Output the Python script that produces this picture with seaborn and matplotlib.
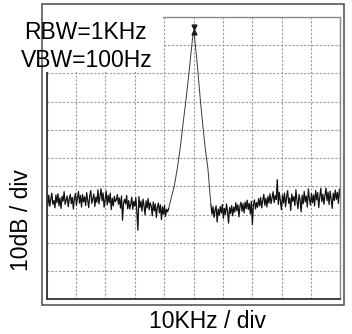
import numpy as np
import pandas as pd
import matplotlib
matplotlib.use("Agg")
import matplotlib.pyplot as plt
import seaborn as sns
from matplotlib.patches import Rectangle

# Spectrum trace (kHz, dB relative to top line)
left_start, left_stop = 0.0, 41.5
left_level = [
    -64.2, -66.8, -63.1, -67.0, -64.5, -62.4, -66.3, -65.0, -67.6, -63.0,
    -65.8, -62.6, -66.9, -64.1, -67.8, -63.5, -65.2, -61.9, -66.4, -64.8,
    -63.4, -67.2, -64.6, -62.8, -66.1, -63.9, -68.0, -64.3, -62.5, -66.7,
    -64.0, -61.8, -65.9, -63.2, -67.3, -62.9, -65.5, -63.7, -66.8, -62.2,
    -64.9, -67.5, -63.3, -61.5, -66.0, -64.4, -62.7, -67.1, -63.8, -65.6,
    -61.2, -66.2, -63.6, -60.8, -65.1, -62.3, -67.4, -64.7, -61.6, -66.5,
    -63.1, -65.8, -62.4, -68.2, -64.2, -66.9, -63.5, -65.4, -64.8, -62.9,
    -66.3, -64.1, -67.7, -63.4, -72.0, -65.9, -64.6, -66.2, -63.2, -67.9,
    -65.0, -68.0, -66.4, -63.8, -68.1, -65.3, -67.0, -64.0, -69.2, -75.5,
    -63.6, -67.4, -65.2, -68.8, -64.5, -66.9, -70.1, -65.1, -67.6, -64.3,
    -68.3, -65.8, -66.9, -70.4, -65.5, -68.7, -66.2, -71.0, -67.3, -65.9,
    -69.4, -66.5, -71.8, -67.2, -69.9, -66.8, -70.6, -68.1, -69.0, -67.8,
]

peak_freq = [41.5, 42.4, 43.4, 44.4, 45.5, 46.5, 47.4, 48.3, 49.2, 49.7, 50.0,
             50.3, 50.8, 51.6, 52.3, 53.1, 53.9, 54.9, 55.3, 55.6, 55.9]
peak_level = [-67.8, -64.0, -60.0, -54.0, -46.0, -37.0, -29.5, -21.0, -12.0, -7.0, -5.0,
              -7.0, -12.0, -21.0, -29.5, -38.0, -46.0, -54.0, -59.0, -63.0, -66.5]

right_start, right_stop = 55.9, 100.0
right_level = [
    -66.5, -69.8, -67.2, -71.0, -68.4, -66.9, -72.6, -68.0, -70.2, -67.1,
    -69.5, -66.4, -71.3, -67.8, -70.0, -66.2, -68.9, -73.0, -67.5, -69.6,
    -66.8, -70.4, -67.3, -69.1, -65.8, -68.6, -66.5, -70.8, -67.0, -65.6,
    -68.8, -66.1, -69.4, -65.5, -67.9, -64.9, -68.2, -66.0, -69.7, -65.3,
    -73.5, -66.4, -64.8, -68.0, -65.7, -67.4, -64.3, -66.9, -63.9, -67.6,
    -65.0, -62.8, -66.7, -64.2, -67.3, -63.5, -65.9, -62.6, -66.1, -64.0,
    -61.9, -65.7, -63.3, -64.6, -57.6, -66.4, -62.1, -65.2, -68.3, -63.0,
    -65.9, -62.4, -67.2, -63.8, -61.5, -66.0, -64.1, -68.5, -62.7, -65.3,
    -63.6, -66.8, -61.2, -65.0, -67.9, -62.9, -64.7, -69.0, -63.1, -66.2,
    -61.8, -65.5, -63.4, -67.3, -60.9, -64.4, -66.6, -62.5, -65.8, -63.0,
    -66.9, -61.4, -64.8, -62.2, -67.5, -63.7, -60.7, -65.4, -62.8, -66.3,
    -63.2, -60.6, -65.1, -62.0, -66.4, -61.7, -64.5, -67.8, -62.4, -65.0,
    -61.3, -64.6, -62.1, -66.0, -60.9, -63.8,
]

marker_freq = 50.0
marker_top, marker_bottom = -3.6, -5.3

annot_lines = ["RBW=1KHz", "VBW=100Hz"]
x_label = "10KHz / div"
y_label = "10dB / div"

left_freq = np.linspace(left_start, left_stop, len(left_level))
right_freq = np.linspace(right_start, right_stop, len(right_level))
noise = pd.DataFrame({
    "freq": np.concatenate([left_freq, right_freq]),
    "level": np.concatenate([left_level, right_level]),
    "part": ["left"] * len(left_level) + ["right"] * len(right_level),
})
peak = pd.DataFrame({"freq": peak_freq, "level": peak_level})

sns.set_theme(style="white")
plt.rcParams["font.family"] = ["Liberation Sans", "DejaVu Sans"]

fig = plt.figure(figsize=(3.52, 3.34), dpi=100)
ax = fig.add_axes([0.1327, 0.1033, 0.8346, 0.8467])

# outer frame around the whole screen
fig.patches.append(Rectangle((0.1207, 0.0883), 0.8566, 0.9012, transform=fig.transFigure,
                             fill=False, edgecolor="#4a4a4a", lw=1.1, zorder=0))

sns.lineplot(data=peak, x="freq", y="level", ax=ax, color="#3a3a3a", lw=0.7,
             estimator=None, sort=False)
sns.lineplot(data=noise, x="freq", y="level", units="part", ax=ax, color="#111111",
             lw=0.9, estimator=None, sort=False)
ax.plot([marker_freq], [marker_top], marker="v", ms=3.5, color="k", ls="none")
ax.plot([marker_freq], [marker_bottom], marker="^", ms=3.5, color="k", ls="none")

ax.set_xlim(0, 100)
ax.set_ylim(-100, 0)
ax.set_xticks(np.arange(0, 101, 10))
ax.set_yticks(np.arange(-100, 1, 10))
ax.set_xticklabels([])
ax.set_yticklabels([])
ax.tick_params(length=0)
ax.grid(True, color="#9a9a9a", lw=0.8, ls=(0, (2, 1.5)))
ax.set_xlabel("")
ax.set_ylabel("")
for side in ["left", "bottom"]:
    ax.spines[side].set_color("#333333")
    ax.spines[side].set_linewidth(1.3)
for side in ["top", "right"]:
    ax.spines[side].set_color("#8a8a8a")
    ax.spines[side].set_linewidth(1.0)

# white label box covering the top-left corner
fig.patches.append(Rectangle((0.1235, 0.785), 0.34, 0.172, transform=fig.transFigure,
                             facecolor="white", edgecolor="none", zorder=5))
fig.text(0.243, 0.903, annot_lines[0], ha="center", va="center", fontsize=16.5,
         color="black", zorder=6)
fig.text(0.245, 0.820, annot_lines[1], ha="center", va="center", fontsize=16.5,
         color="black", zorder=6)

fig.text(0.589, 0.036, x_label, ha="center", va="center", fontsize=16.5, color="black")
fig.text(0.062, 0.342, y_label, ha="center", va="center", rotation=90, fontsize=16.5,
         color="black")

fig.savefig("out.png", dpi=100)
